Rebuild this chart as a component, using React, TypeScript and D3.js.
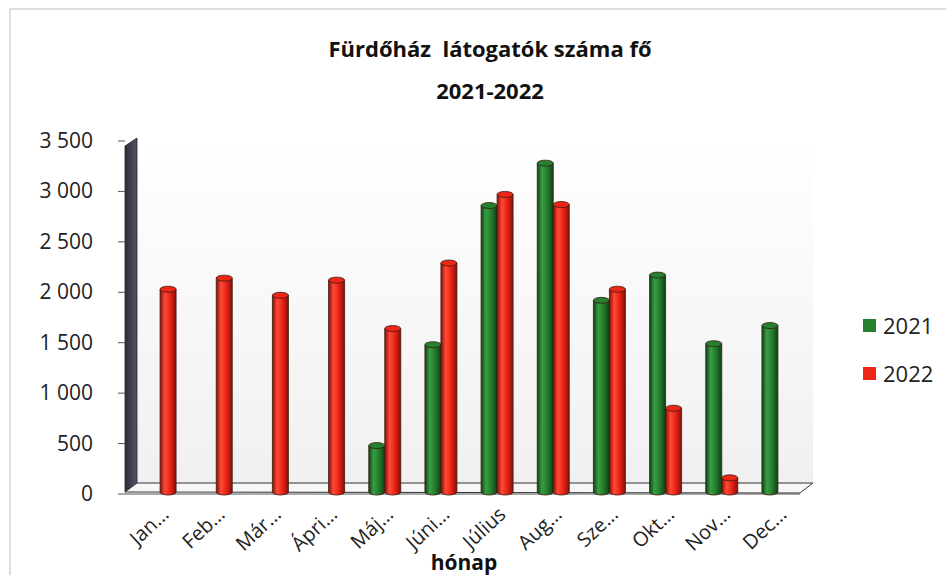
import React from "react";
import * as d3 from "d3";

const months = [
  "Jan…", "Feb…", "Már…", "Ápri…", "Máj…", "Júni…",
  "Július", "Aug…", "Sze…", "Okt…", "Nov…", "Dec…",
];
const series = ["2021", "2022"];
const values2021: (number | null)[] = [null, null, null, null, 500, 1500, 2880, 3300, 1940, 2190, 1510, 1690];
const values2022: (number | null)[] = [2050, 2160, 1990, 2140, 1660, 2310, 2990, 2890, 2050, 870, 180, null];
const yTicks = [0, 500, 1000, 1500, 2000, 2500, 3000, 3500];
const colors: Record<string, { base: string; dark: string; light: string }> = {
  "2021": { base: "#26802f", dark: "#0d4213", light: "#3a9d44" },
  "2022": { base: "#ee2618", dark: "#8a0e08", light: "#ff4a36" },
};

const W = 950;
const H = 579;
const font = "'Open Sans', 'Noto Sans', sans-serif";

export default function App() {
  const x = d3.scaleBand<string>().domain(months).range([132, 806]);
  const inner = d3.scaleBand<string>().domain(series).range([-16, 16]).padding(0);
  const y = d3.scaleLinear().domain([0, 3500]).range([494, 141]);
  const locale = d3.formatLocale({ decimal: ",", thousands: " ", grouping: [3], currency: ["", " Ft"] });
  const fmt = locale.format(",d");

  const bars = series.flatMap((s) =>
    (s === "2021" ? values2021 : values2022).map((v, i) => ({ s, v, m: months[i] }))
  ).filter((d) => d.v !== null) as { s: string; v: number; m: string }[];

  const bw = inner.bandwidth();
  const ry = 3;
  const base = 492;

  return (
    <svg width={W} height={H} style={{ position: "absolute", left: 0, top: 0, background: "#fff" }}>
      <defs>
        {series.map((s) => (
          <linearGradient key={s} id={`cyl${s}`} x1="0" x2="1" y1="0" y2="0">
            <stop offset="0" stopColor={colors[s].dark} />
            <stop offset="0.3" stopColor={colors[s].light} />
            <stop offset="0.6" stopColor={colors[s].base} />
            <stop offset="1" stopColor={colors[s].dark} />
          </linearGradient>
        ))}
        <linearGradient id="wall" x1="0" x2="0" y1="0" y2="1">
          <stop offset="0" stopColor="#ffffff" />
          <stop offset="1" stopColor="#f0f0f0" />
        </linearGradient>
        <linearGradient id="side" x1="0" x2="1" y1="0" y2="0">
          <stop offset="0" stopColor="#2b2b3a" />
          <stop offset="1" stopColor="#55556a" />
        </linearGradient>
      </defs>

      {/* frame */}
      <path d="M10,575 L10,9 L946,9" fill="none" stroke="#d4d4d8" strokeWidth={1.5} />

      {/* title */}
      <text x={490} y={57} textAnchor="middle" fontFamily={font} fontWeight="bold" fontSize={22} fill="#111" style={{ whiteSpace: "pre" }}>
        {"Fürdőház\u00a0 látogatók száma fő"}
      </text>
      <text x={490} y={99} textAnchor="middle" fontFamily={font} fontWeight="bold" fontSize={22} fill="#111">
        2021-2022
      </text>

      {/* back wall */}
      <rect x={137} y={140} width={676} height={343} fill="url(#wall)" />
      {/* left side wall */}
      <path d="M125,146 L137,138 L137,483 L125,492 Z" fill="url(#side)" stroke="#222" strokeWidth={0.8} />
      {/* floor */}
      <path d="M125,492 L137,483 L813,483 L800,493 Z" fill="#f7f7f7" stroke="#333" strokeWidth={1} />
      <line x1={125} y1={494} x2={800} y2={494} stroke="#555" strokeWidth={1.2} />

      {/* y ticks */}
      {yTicks.map((t) => (
        <g key={t}>
          <line x1={118} x2={125} y1={y(t)} y2={y(t)} stroke="#555" />
          <text x={93} y={y(t) + 7} textAnchor="end" fontFamily={font} fontSize={21} fill="#222">
            {fmt(t)}
          </text>
        </g>
      ))}

      {/* bars */}
      {bars.map((d) => {
        const cx = (x(d.m) as number) + x.bandwidth() / 2 + (inner(d.s) as number);
        const top = y(d.v) + 2;
        return (
          <g key={d.s + d.m}>
            <path
              d={`M${cx},${top} L${cx},${base} A${bw / 2},${ry} 0 0 0 ${cx + bw},${base} L${cx + bw},${top} Z`}
              fill={`url(#cyl${d.s})`}
              stroke="#3a1a10"
              strokeWidth={0.8}
            />
            <ellipse cx={cx + bw / 2} cy={top} rx={bw / 2} ry={ry} fill={colors[d.s].base} stroke="#3a1a10" strokeWidth={0.8} />
          </g>
        );
      })}

      {/* x labels */}
      {months.map((m) => {
        const cx = (x(m) as number) + x.bandwidth() / 2 + 10;
        return (
          <text
            key={m}
            transform={`translate(${cx},${516}) rotate(-43)`}
            textAnchor="end"
            fontFamily={font}
            fontSize={20}
            fill="#222"
          >
            {m}
          </text>
        );
      })}

      {/* axis title */}
      <text x={464} y={570} textAnchor="middle" fontFamily={font} fontWeight="bold" fontSize={21} fill="#111">
        hónap
      </text>

      {/* legend */}
      {series.map((s, i) => (
        <g key={s} transform={`translate(863,${319 + i * 48})`}>
          <rect width={13} height={13} fill={colors[s].base} />
          <text x={20} y={15} fontFamily={font} fontSize={22} fill="#222">
            {s}
          </text>
        </g>
      ))}
    </svg>
  );
}
